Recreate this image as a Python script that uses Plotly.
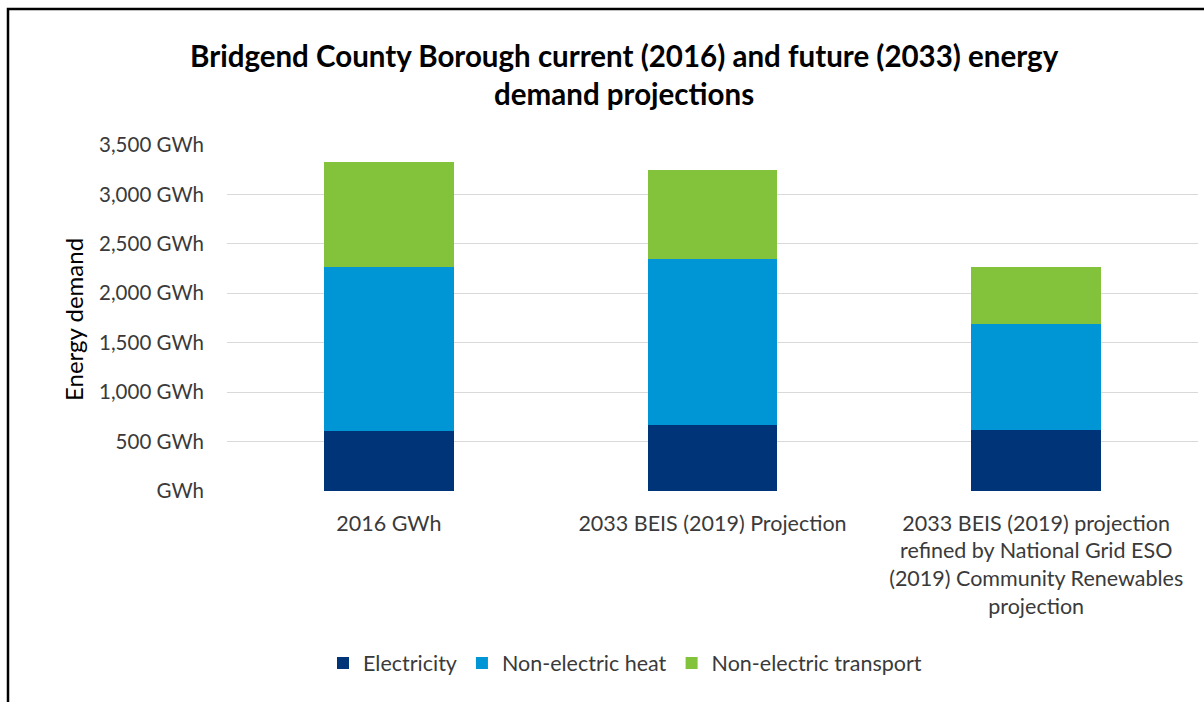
import plotly.graph_objects as go

categories = [
    "2016 GWh",
    "2033 BEIS (2019) Projection",
    "2033 BEIS (2019) projection<br>refined by National Grid ESO<br>(2019) Community Renewables<br>projection",
]
electricity = [602, 669, 617]
non_electric_heat = [1662, 1676, 1076]
non_electric_transport = [1064, 901, 571]
tick_vals = [0, 500, 1000, 1500, 2000, 2500, 3000, 3500]
tick_text = ["GWh", "500 GWh", "1,000 GWh", "1,500 GWh", "2,000 GWh", "2,500 GWh", "3,000 GWh", "3,500 GWh"]

FONT = "Lato, 'Open Sans', sans-serif"
TXT = "#3a3a3a"

fig = go.Figure()
fig.add_bar(x=categories, y=electricity, name="Electricity", marker=dict(color="#003478", line=dict(width=0)))
fig.add_bar(x=categories, y=non_electric_heat, name="Non-electric heat", marker=dict(color="#0096D6", line=dict(width=0)))
fig.add_bar(x=categories, y=non_electric_transport, name="Non-electric transport", marker=dict(color="#82C33B", line=dict(width=0)))

L, R, T, B = 227, 6, 145, 211
W, H = 1204, 702
pw, ph = W - L - R, H - T - B

def px(x):
    return (x - L) / pw

def py(y):
    return (H - B - y) / ph

fig.update_layout(
    width=W, height=H,
    margin=dict(l=L, r=R, t=T, b=B),
    barmode="stack",
    bargap=0.6,
    paper_bgcolor="white",
    plot_bgcolor="white",
    font=dict(family=FONT, color=TXT, size=21),
    showlegend=True,
    legend=dict(
        orientation="h", x=px(625), xanchor="center", y=py(663), yanchor="middle",
        font=dict(size=21.5, color=TXT), traceorder="normal",
    ),
    xaxis=dict(
        showgrid=False, showline=False, zeroline=False, ticks="",
        tickfont=dict(size=21.5, color=TXT), ticklabelstandoff=17,
    ),
    yaxis=dict(
        range=[0, 3500], tickvals=tick_vals, ticktext=tick_text,
        showgrid=True, gridcolor="#D9D9D9", gridwidth=1,
        zeroline=False, showline=False, ticks="",
        tickfont=dict(size=20.5, color=TXT), ticklabelstandoff=22,
    ),
)

fig.add_annotation(
    text="<b>Bridgend County Borough current (2016) and future (2033) energy<br>demand projections</b>",
    xref="paper", yref="paper", x=px(624), y=py(74), xanchor="center", yanchor="middle",
    showarrow=False, font=dict(size=29.5, color="#000000", family=FONT),
)
fig.add_annotation(
    text="Energy demand", textangle=-90,
    xref="paper", yref="paper", x=px(73), y=py(320), xanchor="center", yanchor="middle",
    showarrow=False, font=dict(size=24, color="#000000", family=FONT),
)
fig.add_shape(
    type="rect", xref="paper", yref="paper",
    x0=px(8), x1=px(1230), y0=py(9), y1=py(730),
    line=dict(color="black", width=2.5), fillcolor="rgba(0,0,0,0)", layer="above",
)

fig.write_html("out.html")
